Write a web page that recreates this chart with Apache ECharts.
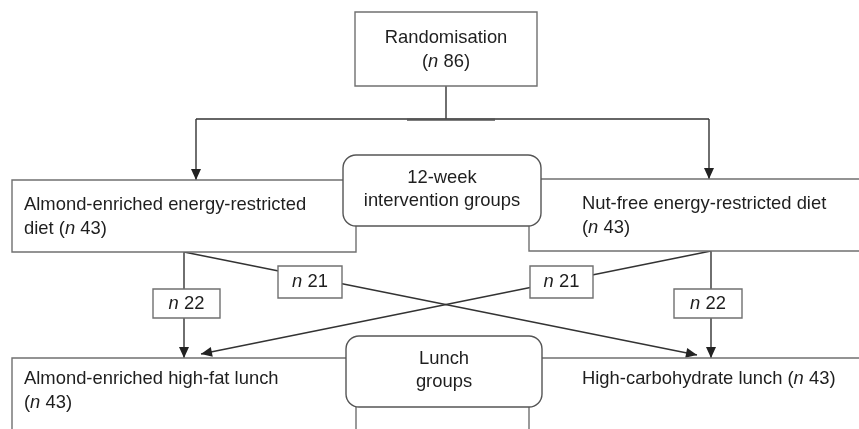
<!DOCTYPE html>
<html>
<head>
<meta charset="utf-8">
<script src="https://cdn.jsdelivr.net/npm/echarts@6/dist/echarts.min.js"></script>
<style>
  html, body { margin: 0; padding: 0; background: #fff; }
  #chart { width: 859px; height: 429px; }
</style>
</head>
<body>
<div id="chart"></div>
<script>
// study groups and their sizes
const groupNames = [
  "Randomisation",
  "Almond-enriched energy-restricted\ndiet",
  "Nut-free energy-restricted diet",
  "Almond-enriched high-fat lunch",
  "High-carbohydrate lunch",
];
const groupN = [86, 43, 43, 43, 43];
const groupJoin = ["\n", " ", "\n", "\n", " "]; // how "(n ..)" follows the name
const stageNames = ["12-week\nintervention groups", "Lunch\ngroups"];
const flowN = [22, 21, 21, 22];

// layout in diagram units (the hidden axes run 0..859 and 0..429)
const groupBoxes = [
  [355, 12, 537, 86],
  [12, 180, 356, 252],
  [529, 179, 890, 251],
  [12, 358, 356, 450],
  [529, 358, 890, 450],
];
const groupText = [
  [446, 50, "center"],
  [24, 216.5, "left"],
  [582, 215.5, "left"],
  [24, 391, "left"],
  [582, 379, "left"],
];
const stageBoxes = [
  [343, 155, 541, 226],
  [346, 336, 542, 407],
];
const flowBoxes = [
  [153, 289, 220, 318],
  [278, 266, 342, 298],
  [530, 266, 593, 298],
  [674, 289, 742, 318],
];
// x1, y1, x2, y2, kind (0 line, 1 arrow, 2 heavy)
const links = [
  [446, 86, 446, 119, 0],
  [196, 119, 709, 119, 0],
  [407, 119.6, 495, 119.6, 2],
  [196, 119, 196, 180, 1],
  [709, 119, 709, 179, 1],
  [184, 252, 184, 358, 1],
  [711, 251, 711, 358, 1],
  [184, 252, 697, 355, 1],
  [711, 251, 201, 354, 1],
];

const FONT = "'Liberation Sans', Arial, sans-serif";
const FS = 18.4;
const rich = {
  i: { fontStyle: "italic", fontSize: FS, fontFamily: FONT, color: "#1e1e1e" },
};
function nText(n) {
  return "({i|n} " + n + ")";
}

let chart = echarts.init(document.getElementById("chart"), null, { renderer: "canvas" });

function rectOf(api, a, b, c, d) {
  const p1 = api.coord([a, b]);
  const p2 = api.coord([c, d]);
  return { x: p1[0], y: p1[1], width: p2[0] - p1[0], height: p2[1] - p1[1] };
}

let option = {
  animation: false,
  backgroundColor: "#fff",
  grid: { left: 0, right: 0, top: 0, bottom: 0 },
  xAxis: { type: "value", min: 0, max: 859, show: false },
  yAxis: { type: "value", min: 0, max: 429, inverse: true, show: false },
  series: [
    {
      // connectors
      type: "custom",
      z: 1,
      data: links,
      renderItem: function (params, api) {
        const p1 = api.coord([api.value(0), api.value(1)]);
        const p2 = api.coord([api.value(2), api.value(3)]);
        const kind = api.value(4);
        const children = [
          {
            type: "line",
            shape: { x1: p1[0], y1: p1[1], x2: p2[0], y2: p2[1] },
            style: {
              stroke: kind === 2 ? "#555" : "#333",
              lineWidth: kind === 2 ? 2.4 : 1.4,
            },
          },
        ];
        if (kind === 1) {
          const dx = p2[0] - p1[0], dy = p2[1] - p1[1];
          const len = Math.sqrt(dx * dx + dy * dy);
          const ux = dx / len, uy = dy / len;
          const bx = p2[0] - ux * 11, by = p2[1] - uy * 11;
          children.push({
            type: "polygon",
            shape: {
              points: [
                [p2[0], p2[1]],
                [bx - uy * 5, by + ux * 5],
                [bx + uy * 5, by - ux * 5],
              ],
            },
            style: { fill: "#222" },
          });
        }
        return { type: "group", children: children };
      },
    },
    {
      // group boxes
      type: "custom",
      z: 2,
      data: groupBoxes.map((b, i) => b.concat(groupText[i].slice(0, 2))),
      renderItem: function (params, api) {
        const i = params.dataIndex;
        const r = rectOf(api, api.value(0), api.value(1), api.value(2), api.value(3));
        const t = api.coord([api.value(4), api.value(5)]);
        return {
          type: "group",
          children: [
            {
              type: "rect",
              shape: r,
              style: { fill: "#fff", stroke: "#707070", lineWidth: 1.4 },
            },
            {
              type: "text",
              x: t[0],
              y: t[1],
              style: {
                text: groupNames[i] + groupJoin[i] + nText(groupN[i]),
                rich: rich,
                fontSize: FS,
                fontFamily: FONT,
                fill: "#1e1e1e",
                lineHeight: 24,
                align: groupText[i][2],
                verticalAlign: "middle",
              },
            },
          ],
        };
      },
    },
    {
      // n per flow
      type: "custom",
      z: 4,
      data: flowBoxes,
      renderItem: function (params, api) {
        const i = params.dataIndex;
        const r = rectOf(api, api.value(0), api.value(1), api.value(2), api.value(3));
        return {
          type: "group",
          children: [
            {
              type: "rect",
              shape: r,
              style: { fill: "#fff", stroke: "#707070", lineWidth: 1.4 },
            },
            {
              type: "text",
              x: r.x + r.width / 2,
              y: r.y + r.height / 2,
              style: {
                text: "{i|n} " + flowN[i],
                rich: rich,
                fontSize: FS,
                fontFamily: FONT,
                fill: "#1e1e1e",
                align: "center",
                verticalAlign: "middle",
              },
            },
          ],
        };
      },
    },
    {
      // stage labels (rounded boxes)
      type: "custom",
      z: 5,
      data: stageBoxes,
      renderItem: function (params, api) {
        const i = params.dataIndex;
        const r = rectOf(api, api.value(0), api.value(1), api.value(2), api.value(3));
        return {
          type: "group",
          children: [
            {
              type: "rect",
              shape: Object.assign({ r: 13 }, r),
              style: { fill: "#fff", stroke: "#555", lineWidth: 1.4 },
            },
            {
              type: "text",
              x: r.x + r.width / 2,
              y: r.y + r.height / 2 - 1,
              style: {
                text: stageNames[i],
                fontSize: FS,
                fontFamily: FONT,
                fill: "#1e1e1e",
                lineHeight: 23,
                align: "center",
                verticalAlign: "middle",
              },
            },
          ],
        };
      },
    },
  ],
};

chart.setOption(option);
</script>
</body>
</html>
